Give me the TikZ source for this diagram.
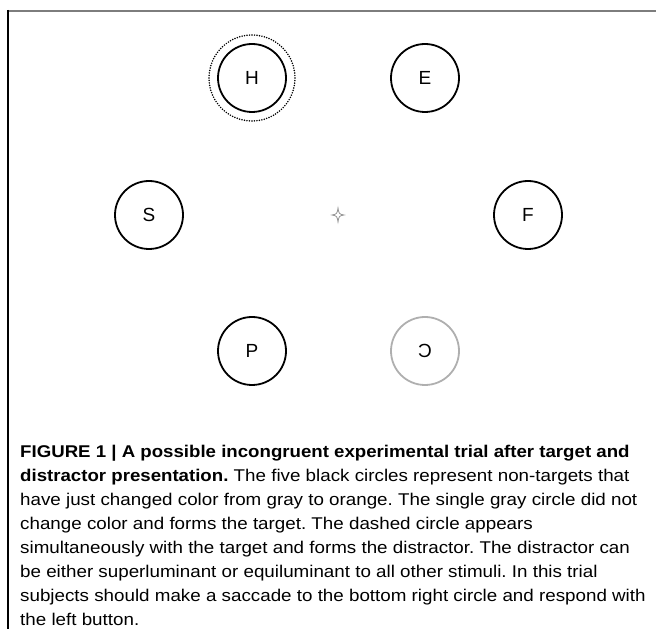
\documentclass[tikz,border=0pt]{standalone}
\usepackage{fontspec}
\setmainfont{Liberation Sans}
\newfontfamily\capfont{Liberation Sans}[FakeStretch=1.105, BoldFeatures={FakeStretch=1.097}]
\frenchspacing
\usetikzlibrary{calc}
\usetikzlibrary{positioning}
\definecolor{framegray}{RGB}{125, 125, 125}
\definecolor{targetgray}{RGB}{175, 175, 175}
\definecolor{fixgray}{RGB}{150, 150, 150}

\tikzset{
    stim/.style={circle, draw, line width=1.8pt, minimum size=68pt, inner sep=0pt, font=\fontsize{19}{19}\selectfont},
    targetstim/.style={stim, draw=targetgray},
    distractor/.style={line width=1.7pt, dash pattern=on 0pt off 2.5pt, line cap=round},
}

\begin{document}
\begin{tikzpicture}[x=1pt, y=1pt]
    \useasboundingbox (0, 0) rectangle (656, 629);

    % frame
    \draw[framegray, line width=2pt] (8, 618) -- (656, 618);
    \draw[line width=1.5pt] (8, 619) -- (8, 0);

    % stimuli
    \node[stim] (h) at (252, 551) {H};
    \node[stim] (e) at (425, 551) {E};
    \node[stim] (s) at (149, 414) {S};
    \node[stim] (f) at (528, 414) {F};
    \node[stim] (p) at (252, 278) {P};
    \node[targetstim] (c) at (425, 278) {\scalebox{-1}[1]{C}};
    \draw[distractor] (h) circle[radius=43];

    % fixation
    \coordinate (fix) at (338, 414);
    \draw[fixgray, line width=0.8pt] ($(fix) + (0, 7)$) .. controls ($(fix) + (1, 1)$) .. ($(fix) + (6, 0)$)
        .. controls ($(fix) + (1, -1)$) .. ($(fix) + (0, -7)$)
        .. controls ($(fix) + (-1, -1)$) .. ($(fix) + (-6, 0)$)
        .. controls ($(fix) + (-1, 1)$) .. cycle;

    % caption
    \node[anchor=base west, align=left, inner sep=0pt, font=\capfont\fontsize{17}{24.1}\selectfont] (caption) at (20, 3) {%
        \textbf{FIGURE 1 | A possible incongruent experimental trial after target and}\\
        \textbf{distractor presentation.} The five black circles represent non-targets that\\
        have just changed color from gray to orange. The single gray circle did not\\
        change color and forms the target. The dashed circle appears\\
        simultaneously with the target and forms the distractor. The distractor can\\
        be either superluminant or equiluminant to all other stimuli. In this trial\\
        subjects should make a saccade to the bottom right circle and respond with\\
        the left button.};
\end{tikzpicture}
\end{document}
